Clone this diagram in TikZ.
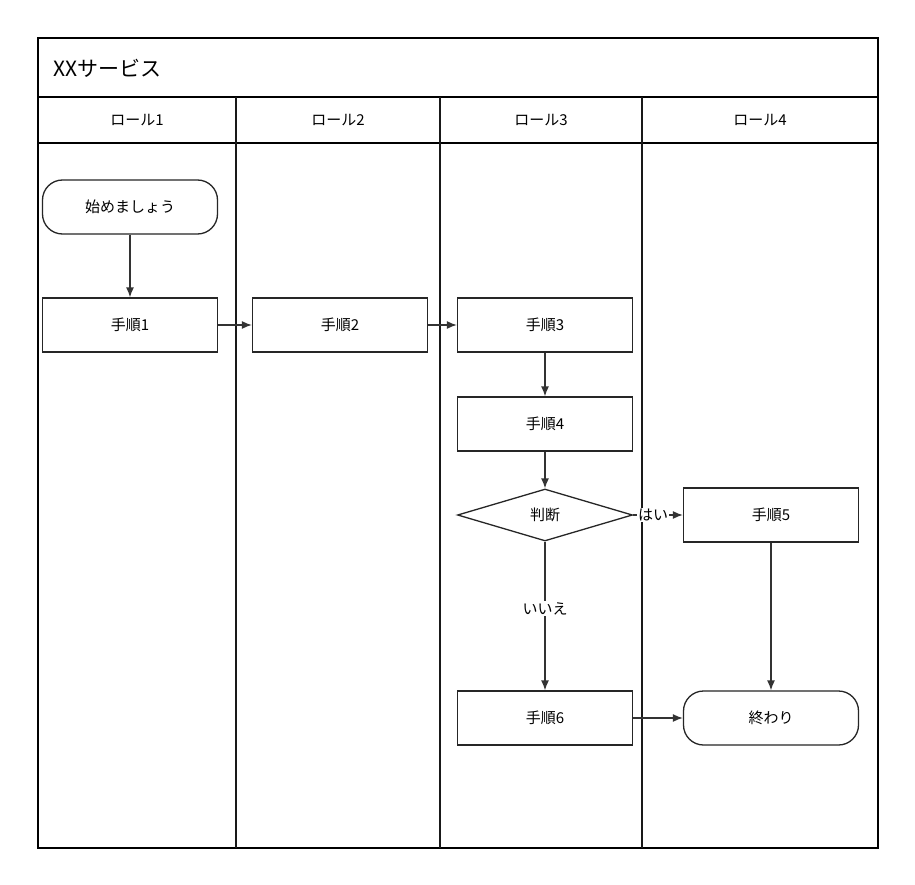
\documentclass[tikz,border=0pt]{standalone}
\usepackage{fontspec}
\setmainfont{Noto Sans CJK JP}
\usetikzlibrary{shapes.geometric,arrows.meta}
\begin{document}
\begin{tikzpicture}[x=1pt,y=-1pt,
  box/.style={draw=black!85,line width=1.3pt,minimum width=175pt,minimum height=54pt,font=\fontsize{15}{18}\selectfont,inner sep=0pt},
  term/.style={box,rounded corners=20pt},
  dia/.style={draw=black!85,line width=1.3pt,diamond,aspect=3.4,minimum width=175pt,minimum height=52pt,inner sep=0pt,font=\fontsize{15}{18}\selectfont},
  conn/.style={draw=black!80,line width=1.3pt,-{Latex[length=10pt,width=8pt]}},
  lane/.style={draw=black!90,line width=2.2pt},
  lbl/.style={font=\fontsize{15}{18}\selectfont,fill=white,inner sep=1pt}]
\useasboundingbox (0,0) rectangle (915,885);
\fill[white] (0,0) rectangle (915,885);
\draw[line width=1.5pt] (38,38) rectangle (878,848);
\draw[line width=1.5pt] (38,97) -- (878,97);
\draw[line width=1.5pt] (38,143) -- (878,143);
\draw[lane] (236,97) -- (236,848);
\draw[lane] (440,97) -- (440,848);
\draw[lane] (642,97) -- (642,848);
\node[anchor=west,font=\fontsize{21}{25}\selectfont] (title) at (50,68) {XXサービス};
\node[font=\fontsize{15}{18}\selectfont] (h1) at (137,120) {ロール1};
\node[font=\fontsize{15}{18}\selectfont] (h2) at (338,120) {ロール2};
\node[font=\fontsize{15}{18}\selectfont] (h3) at (541,120) {ロール3};
\node[font=\fontsize{15}{18}\selectfont] (h4) at (760,120) {ロール4};
\node[term] (s) at (130,207) {始めましょう};
\node[box] (p1) at (130,325) {手順1};
\node[box] (p2) at (340,325) {手順2};
\node[box] (p3) at (545,325) {手順3};
\node[box] (p4) at (545,424) {手順4};
\node[dia] (d) at (545,515) {判断};
\node[box] (p5) at (771,515) {手順5};
\node[box] (p6) at (545,718) {手順6};
\node[term] (e) at (771,718) {終わり};
\draw[conn] (s) -- (p1);
\draw[conn] (p1) -- (p2);
\draw[conn] (p2) -- (p3);
\draw[conn] (p3) -- (p4);
\draw[conn] (p4) -- (d);
\draw[conn] (d) -- node[lbl,pos=0.4] {はい} (p5);
\draw[conn] (d) -- node[lbl,pos=0.45] {いいえ} (p6);
\draw[conn] (p6) -- (e);
\draw[conn] (p5) -- (e);
\end{tikzpicture}
\end{document}
